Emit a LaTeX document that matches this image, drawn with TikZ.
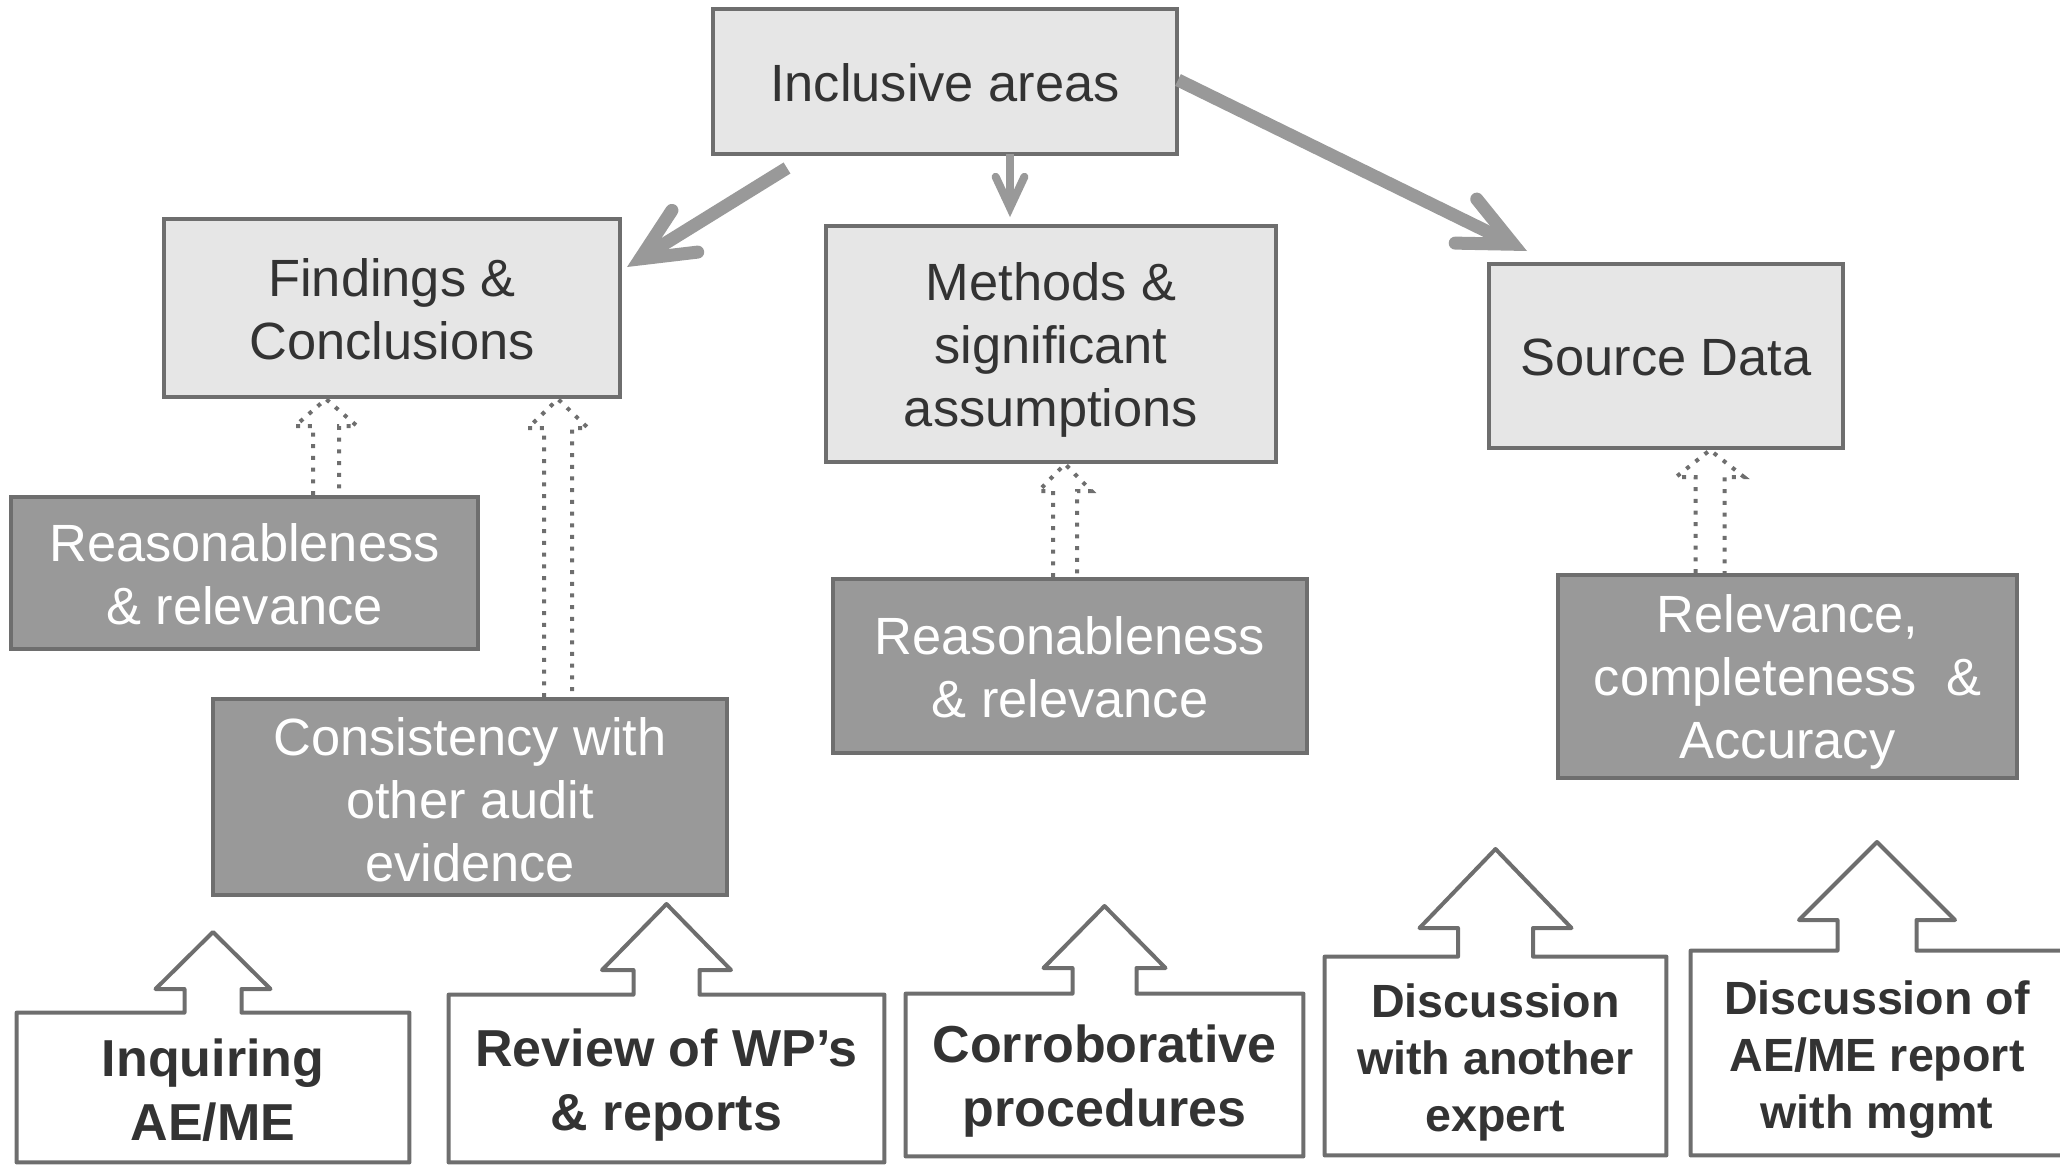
\documentclass[tikz,border=0pt]{standalone}
\usepackage{fontspec}
\setmainfont{Liberation Sans}
\usetikzlibrary{calc}
\definecolor{lightbox}{HTML}{E6E6E6}
\definecolor{darkbox}{HTML}{999999}
\definecolor{edge}{HTML}{6E6E6E}
\definecolor{arr}{HTML}{999999}
\definecolor{txt}{HTML}{333333}

% thick grey arrow: #1 tail, #2 visual tip, #3 line width (pt), #4 miter offset (pt), #5 arm length (pt)
\newcommand\fatarrow[5]{%
  \coordinate (#2g) at ($(#2)!#4pt!(#1)$);
  \draw[fatline, line width=#3pt] (#1) -- (#2g);
  \draw[fatline, line width=#3pt, line cap=round, line join=miter, miter limit=20]
    ($(#2g)!#5pt!25:(#1)$) -- (#2g) -- ($(#2g)!#5pt!-25:(#1)$);}

% dotted hollow arrow: #1 x (px), #2 source node, #3 target node, #4 shaft half, #5 head half, #6 head length (px)
\newcommand\dotup[6]{%
  \draw[dotline] let \p1=(#2.north), \p2=(#3.south) in
    (#1*0.5pt-#4*0.5pt,\y1) -- (#1*0.5pt-#4*0.5pt,\y2-#6*0.5pt)
    -- (#1*0.5pt-#5*0.5pt,\y2-#6*0.5pt) -- (#1*0.5pt,\y2)
    -- (#1*0.5pt+#5*0.5pt,\y2-#6*0.5pt) -- (#1*0.5pt+#4*0.5pt,\y2-#6*0.5pt)
    -- (#1*0.5pt+#4*0.5pt,\y1);}

% outline of a box with an up arrow: #1 node, #2 tip y, #3 head base y, #4 head half, #5 shaft half (px)
\newcommand\arrowboxoutline[5]{%
  \draw[outline] let \p1=(#1.north) in
    (#1.south west) -- (#1.north west) -- (\x1-#5*0.5pt,\y1) -- (\x1-#5*0.5pt,-#3*0.5pt)
    -- (\x1-#4*0.5pt,-#3*0.5pt) -- (\x1,-#2*0.5pt) -- (\x1+#4*0.5pt,-#3*0.5pt)
    -- (\x1+#5*0.5pt,-#3*0.5pt) -- (\x1+#5*0.5pt,\y1) -- (#1.north east) -- (#1.south east) -- cycle;}

\begin{document}
\begin{tikzpicture}[x=0.5pt,y=-0.5pt,
  boxbase/.style={draw=edge, line width=2pt, inner sep=0pt},
  lightnode/.style={boxbase, fill=lightbox},
  darknode/.style={boxbase, fill=darkbox},
  plainbox/.style={inner sep=0pt},
  regtext/.style={align=center, inner sep=0pt, font=\fontsize{26.2pt}{31.5pt}\selectfont},
  lighttext/.style={regtext, text=txt},
  darktext/.style={regtext, text=white},
  outtext/.style={inner sep=0pt, align=center, text=txt, font=\bfseries\fontsize{26pt}{32pt}\selectfont},
  outtextsmall/.style={outtext, font=\bfseries\fontsize{23.3pt}{28.6pt}\selectfont},
  outline/.style={draw=edge, line width=2pt, line join=round},
  dotline/.style={draw=edge, line width=2pt, dash pattern=on 2pt off 3.85pt},
  fatline/.style={draw=arr}
  ]
\useasboundingbox (0,0) rectangle (2060,1164);

% light boxes
\node[lightnode, minimum width=232pt, minimum height=72.5pt] (incl) at (945,81.5) {};
\node[lightnode, minimum width=228pt, minimum height=89pt] (find) at (392,308) {};
\node[lightnode, minimum width=225pt, minimum height=118pt] (meth) at (1051,344) {};
\node[lightnode, minimum width=177pt, minimum height=92pt] (src) at (1666,356) {};
\node[lighttext, yshift=-0.5pt] (incl-t) at (incl) {Inclusive areas};
\node[lighttext, yshift=-0.6pt] (find-t) at (find) {Findings \&\\Conclusions};
\node[lighttext, yshift=-3.2pt] (meth-t) at (meth) {Methods \&\\significant\\assumptions};
\node[lighttext, yshift=-0.6pt] (src-t) at (src) {Source Data};

% dark boxes
\node[darknode, minimum width=233.5pt, minimum height=76pt] (rr1) at (244.5,573) {};
\node[darknode, minimum width=257pt, minimum height=98pt] (cons) at (470,797) {};
\node[darknode, minimum width=237pt, minimum height=87pt] (rr2) at (1070,666) {};
\node[darknode, minimum width=229.5pt, minimum height=101.5pt] (rca) at (1787.5,676.5) {};
\node[darktext, yshift=-0.6pt] (rr1-t) at (rr1) {Reasonableness\\\& relevance};
\node[darktext, yshift=-1.3pt] (cons-t) at (cons) {Consistency with\\other audit\\evidence};
\node[darktext, yshift=-0.6pt] (rr2-t) at (rr2) {Reasonableness\\\& relevance};
\node[darktext, yshift=-2.6pt] (rca-t) at (rca) {Relevance,\\completeness~~\&\\Accuracy};

% bottom boxes with up arrows
\node[plainbox, minimum width=196pt, minimum height=74.5pt] (inq) at (213,1087.5) {};
\node[plainbox, minimum width=217.5pt, minimum height=83.5pt] (rev) at (666.5,1078.5) {};
\node[plainbox, minimum width=198.5pt, minimum height=81pt] (cor) at (1104.5,1075) {};
\node[plainbox, minimum width=170.5pt, minimum height=99pt] (dis) at (1495.5,1056) {};
\node[plainbox, minimum width=186pt, minimum height=102pt] (dism) at (1877,1053) {};
\node[outtext, yshift=-1.3pt] (inq-t) at (inq) {Inquiring\\AE/ME};
\node[outtext, yshift=-3.2pt] (rev-t) at (rev) {Review of WP’s\\\& reports};
\node[outtext, yshift=-3.2pt] (cor-t) at (cor) {Corroborative\\procedures};
\node[outtextsmall, yshift=-3.2pt] (dis-t) at (dis) {Discussion\\with another\\expert};
\node[outtextsmall, yshift=-3.2pt] (dism-t) at (dism) {Discussion of\\AE/ME report\\with mgmt};

\arrowboxoutline{inq}{932}{989}{57.5}{28.5}
\arrowboxoutline{rev}{904}{970}{64.5}{33}
\arrowboxoutline{cor}{906}{968}{61}{32}
\arrowboxoutline{dis}{849}{928}{76}{37.5}
\arrowboxoutline{dism}{842}{920}{78}{39.5}

% dotted hollow arrows
\dotup{326}{rr1}{find}{13}{31}{27}
\dotup{558}{cons}{find}{14}{30}{29}
\dotup{1065}{rr2}{meth}{12}{26.5}{27}
\dotup{1710}{rca}{src}{14.5}{34}{27}

% thick arrows from the top box
\coordinate (a1t) at (787,168);
\coordinate (a1v) at (627,267);
\coordinate (a2t) at (1010,154);
\coordinate (a2v) at (1010,217);
\coordinate (a3t) at (1178,80);
\coordinate (a3v) at (1527,251);
\fatarrow{a1t}{a1v}{6.5}{7.7}{29}
\fatarrow{a2t}{a2v}{4}{4.7}{17}
\fatarrow{a3t}{a3v}{6.5}{7.7}{29}
\end{tikzpicture}
\end{document}
